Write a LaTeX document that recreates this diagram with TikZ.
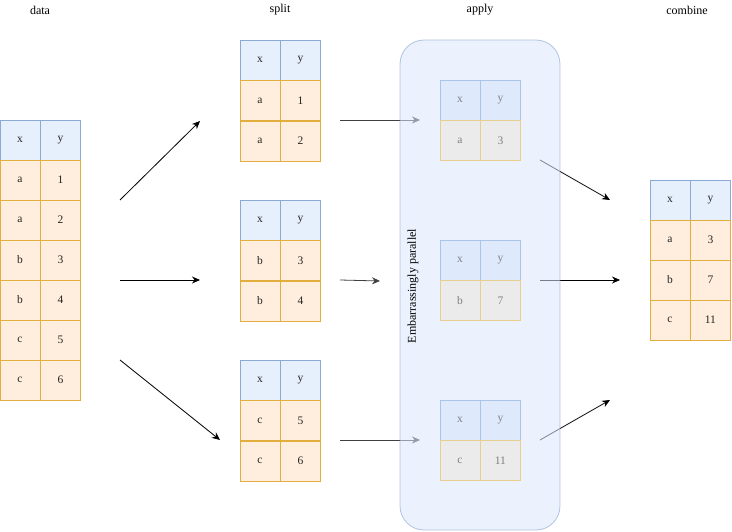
\documentclass[tikz,border=0pt]{standalone}
\usepackage{fontspec}
\setmainfont{Liberation Serif}
\usetikzlibrary{arrows.meta,positioning}
\definecolor{hdrfill}{HTML}{DAE8FC}
\definecolor{hdrline}{HTML}{6C8EBF}
\definecolor{rowfill}{HTML}{FFE6CC}
\definecolor{rowline}{HTML}{D79B00}
\definecolor{cellhdrfill}{HTML}{E6EFFC}
\definecolor{cellhdrline}{HTML}{8BAAD6}
\definecolor{cellrowfill}{HTML}{FFEEDD}
\definecolor{cellrowline}{HTML}{E2AE3E}
\definecolor{fadehdrfill}{HTML}{DEE9FB}
\definecolor{fadehdrline}{HTML}{ABC4E8}
\definecolor{faderowfill}{HTML}{EBEBEB}
\definecolor{faderowline}{HTML}{E8CF8F}
\definecolor{fadetext}{HTML}{808080}

\begin{document}
\begin{tikzpicture}[x=1pt, y=-1pt,
  title/.style={font=\fontsize{12}{14}\selectfont},
  hdr/.style={draw=cellhdrline, fill=cellhdrfill, minimum width=40pt, minimum height=40pt, inner sep=0pt, font=\fontsize{11.5}{14}\selectfont, text=black!85},
  row/.style={draw=cellrowline, fill=cellrowfill, minimum width=40pt, minimum height=40pt, inner sep=0pt, font=\fontsize{11.5}{14}\selectfont, text=black!85},
  fadehdr/.style={hdr, draw=fadehdrline, fill=fadehdrfill, text=fadetext},
  faderow/.style={row, draw=faderowline, fill=faderowfill, text=fadetext},
  arr/.style={-{Stealth[length=8pt, width=7pt]}, black, line width=0.8pt}
]
  \useasboundingbox (0,0) rectangle (732,532);

  % titles
  \node[title] (t-data) at (40,10) {data};
  \node[title] (t-split) at (280,10) {split};
  \node[title] (t-apply) at (480,10) {apply};
  \node[title] (t-combine) at (687,10) {combine};

  % data
  \node[hdr] (data-x) at (20,140) {x};
  \node[hdr, right=0pt of data-x] (data-y) {y};
  \foreach \a/\b [count=\i] in {a/1,a/2,b/3,b/4,c/5,c/6} {
    \node[row] (data-\i-x) at (20,140+40*\i) {\a};
    \node[row, right=0pt of data-\i-x] (data-\i-y) {\b};
  }

  % split
  \foreach \k/\top/\a/\b/\c/\d in {1/60/a/1/a/2, 2/220/b/3/b/4, 3/380/c/5/c/6} {
    \node[hdr] (split\k-x) at (260,\top) {x};
    \node[hdr, right=0pt of split\k-x] (split\k-y) {y};
    \node[row, below=0pt of split\k-x] (split\k-1-x) {\a};
    \node[row, right=0pt of split\k-1-x] (split\k-1-y) {\b};
    \node[row, below=0pt of split\k-1-x] (split\k-2-x) {\c};
    \node[row, right=0pt of split\k-2-x] (split\k-2-y) {\d};
  }

  % combine
  \node[hdr] (comb-x) at (670,200) {x};
  \node[hdr, right=0pt of comb-x] (comb-y) {y};
  \foreach \a/\b [count=\i] in {a/3,b/7,c/11} {
    \node[row] (comb-\i-x) at (670,200+40*\i) {\a};
    \node[row, right=0pt of comb-\i-x] (comb-\i-y) {\b};
  }

  % arrow ends
  \coordinate (d1) at (120,200);  \coordinate (s1) at (200,121);
  \coordinate (d2) at (120,280);  \coordinate (s2) at (200,280);
  \coordinate (d3) at (120,360);  \coordinate (s3) at (220,440);
  \coordinate (p1) at (340,120);  \coordinate (q1) at (420,120);
  \coordinate (p2) at (340,280);  \coordinate (q2) at (380,281);
  \coordinate (p3) at (340,440);  \coordinate (q3) at (420,440);
  \coordinate (r1) at (540,160);  \coordinate (c1) at (610,200);
  \coordinate (r2) at (540,280);  \coordinate (c2) at (620,280);
  \coordinate (r3) at (540,440);  \coordinate (c3) at (610,400);

  \draw[arr] (d1) -- (s1);
  \draw[arr] (d2) -- (s2);
  \draw[arr] (d3) -- (s3);
  \draw[arr, black!75] (p1) -- (q1);
  \draw[arr, black!75] (p2) -- (q2);
  \draw[arr, black!75] (p3) -- (q3);
  \draw[arr] (r1) -- (c1);
  \draw[arr] (r2) -- (c2);
  \draw[arr] (r3) -- (c3);

  % apply box
  \draw[draw=hdrline, draw opacity=0.5, fill=hdrfill, fill opacity=0.55, rounded corners=24pt, line width=0.8pt]
    (400,40) rectangle (560,530);
  \node[title, rotate=90] (par) at (413,286) {Embarrassingly parallel};

  \foreach \k/\top/\a/\b in {1/100/a/3, 2/260/b/7, 3/420/c/11} {
    \node[fadehdr] (apply\k-x) at (460,\top) {x};
    \node[fadehdr, right=0pt of apply\k-x] (apply\k-y) {y};
    \node[faderow, below=0pt of apply\k-x] (apply\k-1-x) {\a};
    \node[faderow, right=0pt of apply\k-1-x] (apply\k-1-y) {\b};
  }
\end{tikzpicture}
\end{document}
